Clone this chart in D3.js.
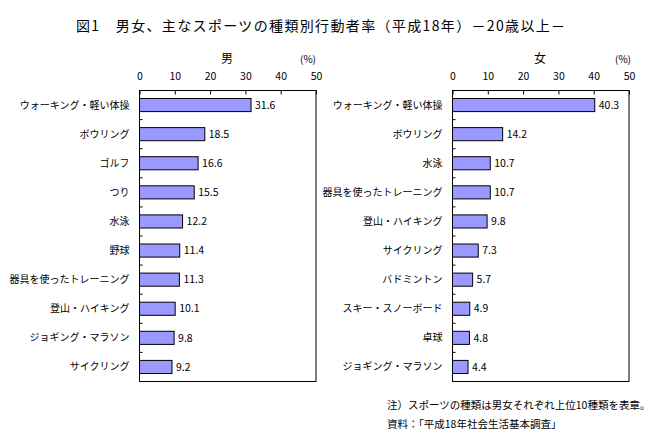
<!DOCTYPE html>
<html><head><meta charset="utf-8">
<script src="https://cdn.jsdelivr.net/npm/d3@7"></script>
<style>
body{margin:0;background:#fff;}
text{font-family:"Noto Sans CJK JP","Noto Sans",sans-serif;fill:#000;}
</style></head>
<body><svg id="c" width="667" height="444"></svg>
<script>
const title = "図1　男女、主なスポーツの種類別行動者率（平成18年）－20歳以上－";
const maleCats = ["ウォーキング・軽い体操","ボウリング","ゴルフ","つり","水泳","野球","器具を使ったトレーニング","登山・ハイキング","ジョギング・マラソン","サイクリング"];
const maleVals = [31.6,18.5,16.6,15.5,12.2,11.4,11.3,10.1,9.8,9.2];
const femaleCats = ["ウォーキング・軽い体操","ボウリング","水泳","器具を使ったトレーニング","登山・ハイキング","サイクリング","バドミントン","スキー・スノーボード","卓球","ジョギング・マラソン"];
const femaleVals = [40.3,14.2,10.7,10.7,9.8,7.3,5.7,4.9,4.8,4.4];
const tickVals = [0,10,20,30,40,50];
const notes = ["注）スポーツの種類は男女それぞれ上位10種類を表章。","資料：「平成18年社会生活基本調査」"];

const svg = d3.select("#c");
svg.append("text").attr("x",76).attr("y",31).attr("font-size",14).attr("letter-spacing","1.35px").text(title);

function panel(name, cats, vals, x0, x1, nameX, pctX){
  const top = 90.5, bottom = 381.5;
  const x = d3.scaleLinear().domain([0,50]).range([x0,x1]);
  const y = d3.scaleBand().domain(cats).range([top,bottom]).paddingInner(0.55).paddingOuter(0.275);
  const g = svg.append("g");
  g.append("text").attr("x",nameX).attr("y",63).attr("text-anchor","middle").attr("font-size",12).text(name);
  g.append("text").attr("x",pctX).attr("y",63).attr("text-anchor","middle").attr("font-size",10).text("(%)");
  g.append("rect").attr("x",x(0)).attr("y",top).attr("width",x(50)-x(0)).attr("height",bottom-top)
    .attr("fill","none").attr("stroke","#000").attr("stroke-width",1);
  const ax = g.append("g").attr("transform",`translate(0,${top})`)
    .call(d3.axisTop(x).tickValues(tickVals).tickSizeInner(-4).tickSizeOuter(0).tickPadding(10.5));
  ax.select(".domain").remove();
  ax.selectAll("text").attr("font-size",10.5).attr("font-family","'Noto Sans CJK JP',sans-serif");
  ax.selectAll("line").attr("stroke","#000");
  const step = y.step();
  g.selectAll(".ct").data(d3.range(1,cats.length)).join("line")
    .attr("x1",x(0)).attr("x2",x(0)+3)
    .attr("y1",i=>top+step*i).attr("y2",i=>top+step*i).attr("stroke","#000");
  g.selectAll(".bar").data(vals).join("rect")
    .attr("x",x(0)).attr("y",(d,i)=>y(cats[i]))
    .attr("width",d=>x(d)-x(0)).attr("height",y.bandwidth())
    .attr("fill","#9999FF").attr("stroke","#000").attr("stroke-width",1);
  g.selectAll(".vl").data(vals).join("text")
    .attr("x",d=>x(d)+4).attr("y",(d,i)=>y(cats[i])+y.bandwidth()/2)
    .attr("dy","0.35em").attr("font-size",10.5).text(d=>d.toFixed(1));
  g.selectAll(".cl").data(cats).join("text")
    .attr("x",x(0)-10).attr("y",d=>y(d)+y.bandwidth()/2)
    .attr("dy","0.35em").attr("text-anchor","end").attr("font-size",10).text(d=>d);
}
panel("男", maleCats, maleVals, 139.5, 316, 227, 308);
panel("女", femaleCats, femaleVals, 452.5, 629, 540, 623);

svg.selectAll(".note").data(notes).join("text")
  .attr("x",387).attr("y",(d,i)=>409+i*18.5).attr("font-size",10.5).text(d=>d);
</script></body></html>
